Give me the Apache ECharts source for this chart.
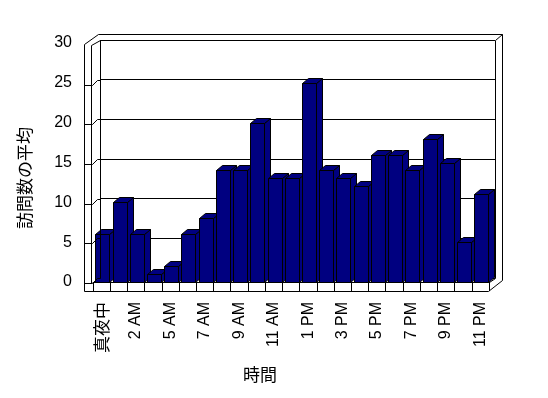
<!DOCTYPE html>
<html><head><meta charset="utf-8">
<script src="https://cdn.jsdelivr.net/npm/echarts@6/dist/echarts.min.js"></script>
<style>html,body{margin:0;padding:0;background:#fff}#c{width:548px;height:398px}</style>
</head><body><div id="c"></div>
<script>
const categories = ['真夜中','1 AM','2 AM','3 AM','5 AM','6 AM','7 AM','8 AM','9 AM','10 AM','11 AM','正午','1 PM','2 PM','3 PM','4 PM','5 PM','6 PM','7 PM','8 PM','9 PM','10 PM','11 PM'];
const visits = [6,10,6,1,2,6,8,14,14,20,13,13,25,14,13,12,16,16,14,18,15,5,11];
const yTicks = [0,5,10,15,20,25,30];
const yTitle = '訪問数の平均';
const xTitle = '時間';

const chart = echarts.init(document.getElementById('c'), null, {renderer:'canvas'});
const NAVY = '#000080';
const DX = 6, DY = 5;
const LAT = 'Liberation Sans, Arial, sans-serif';
const CJK = 'Noto Sans CJK JP, sans-serif';
const yMin = yTicks[0], yMax = yTicks[yTicks.length-1], yStep = yTicks[1]-yTicks[0];

function renderBar(params, api){
  const idx = api.value(0), v = api.value(1);
  const top = api.coord([idx, v]);
  const base = api.coord([idx, 0]);
  const slot = api.size([1,0])[0];
  const w = Math.round(slot*0.83);
  const x0 = Math.round(top[0]-w/2+0.8)+0.5, x1 = x0+w;
  const yt = Math.round(top[1])+0.5, yb = Math.round(base[1])+0.5;
  const st = {fill:NAVY, stroke:'#000', lineWidth:1};
  return {type:'group', children:[
    {type:'polygon', shape:{points:[[x1,yb],[x1,yt],[x1+DX,yt-DY],[x1+DX,yb-DY]]}, style:st},
    {type:'polygon', shape:{points:[[x0,yt],[x1,yt],[x1+DX,yt-DY],[x0+DX,yt-DY]]}, style:st},
    {type:'rect', shape:{x:x0,y:yt,width:w,height:yb-yt}, style:st}
  ]};
}

chart.setOption({
  animation:false,
  backgroundColor:'#fff',
  grid:[{left:93,right:59,top:43,bottom:116},{left:100,right:53,top:40,bottom:120}],
  xAxis:[
    {type:'category', gridIndex:0, data:categories, boundaryGap:true,
     axisLine:{lineStyle:{color:'#000',width:1}},
     axisTick:{show:true, interval:0, length:9, lineStyle:{color:'#000'}},
     axisLabel:{interval:1, rotate:90, margin:20, color:'#000', fontSize:16, fontFamily:LAT,
       formatter:function(v){return /[^\x00-\x7f]/.test(v) ? '{j|'+v+'}' : v;},
       rich:{j:{fontFamily:CJK, fontSize:17, color:'#000'}}}},
    {type:'category', gridIndex:1, data:categories, show:false}
  ],
  yAxis:[
    {type:'value', gridIndex:0, min:yMin, max:yMax, interval:yStep,
     splitLine:{show:false}, axisLine:{show:false}, axisTick:{show:false},
     axisLabel:{margin:21, color:'#000', fontSize:16, fontFamily:LAT}},
    {type:'value', gridIndex:1, min:yMin, max:yMax, interval:yStep,
     axisLabel:{show:false}, axisLine:{show:false}, axisTick:{show:false},
     splitLine:{show:true, lineStyle:{color:'#000', width:1}}}
  ],
  series:[{type:'custom', xAxisIndex:0, yAxisIndex:0, renderItem:renderBar,
    data:visits.map(function(v,i){return [i,v];}), z:5}]
});

// wall / box decorations derived from the back-wall axis
const by = function(v){return Math.round(chart.convertToPixel({yAxisIndex:1}, v))+0.5;};
const yTop = by(yMax), yZero = by(yMin);
const L = {stroke:'#000', lineWidth:1, fill:null};
const g = [];
function pl(pts){g.push({type:'polyline', shape:{points:pts}, style:L, z:10, silent:true});}
pl([[84.5,yTop+4],[84.5,291.5]]);
pl([[91.5,yTop+5],[91.5,yZero+5]]);
pl([[100.5,yTop],[100.5,yZero]]);
pl([[84.5,yTop+4],[98.5,yTop-6],[502.5,yTop-6],[502.5,yZero+2],[488.5,291.5],[84.5,291.5]]);
pl([[91.5,yTop+5],[100.5,yTop]]);
pl([[495.5,yTop],[495.5,yZero]]);
pl([[495.5,yTop],[502.5,yTop-6]]);
yTicks.slice(0,-1).forEach(function(v){
  const y = by(v);
  pl([[84.5,y+5],[92.5,y+5],[97.5,y],[100.5,y]]);
});
pl([[489.5,282.5],[495.5,yZero]]);
g.push({type:'text', x:25, y:178, rotation:Math.PI/2, z:10,
  style:{text:yTitle, fontFamily:CJK, fontSize:17, fill:'#000', align:'center', verticalAlign:'middle'}});
g.push({type:'text', x:260, y:375, z:10,
  style:{text:xTitle, fontFamily:CJK, fontSize:17, fill:'#000', align:'center', verticalAlign:'middle'}});
chart.setOption({graphic:{elements:g}});
</script></body></html>
